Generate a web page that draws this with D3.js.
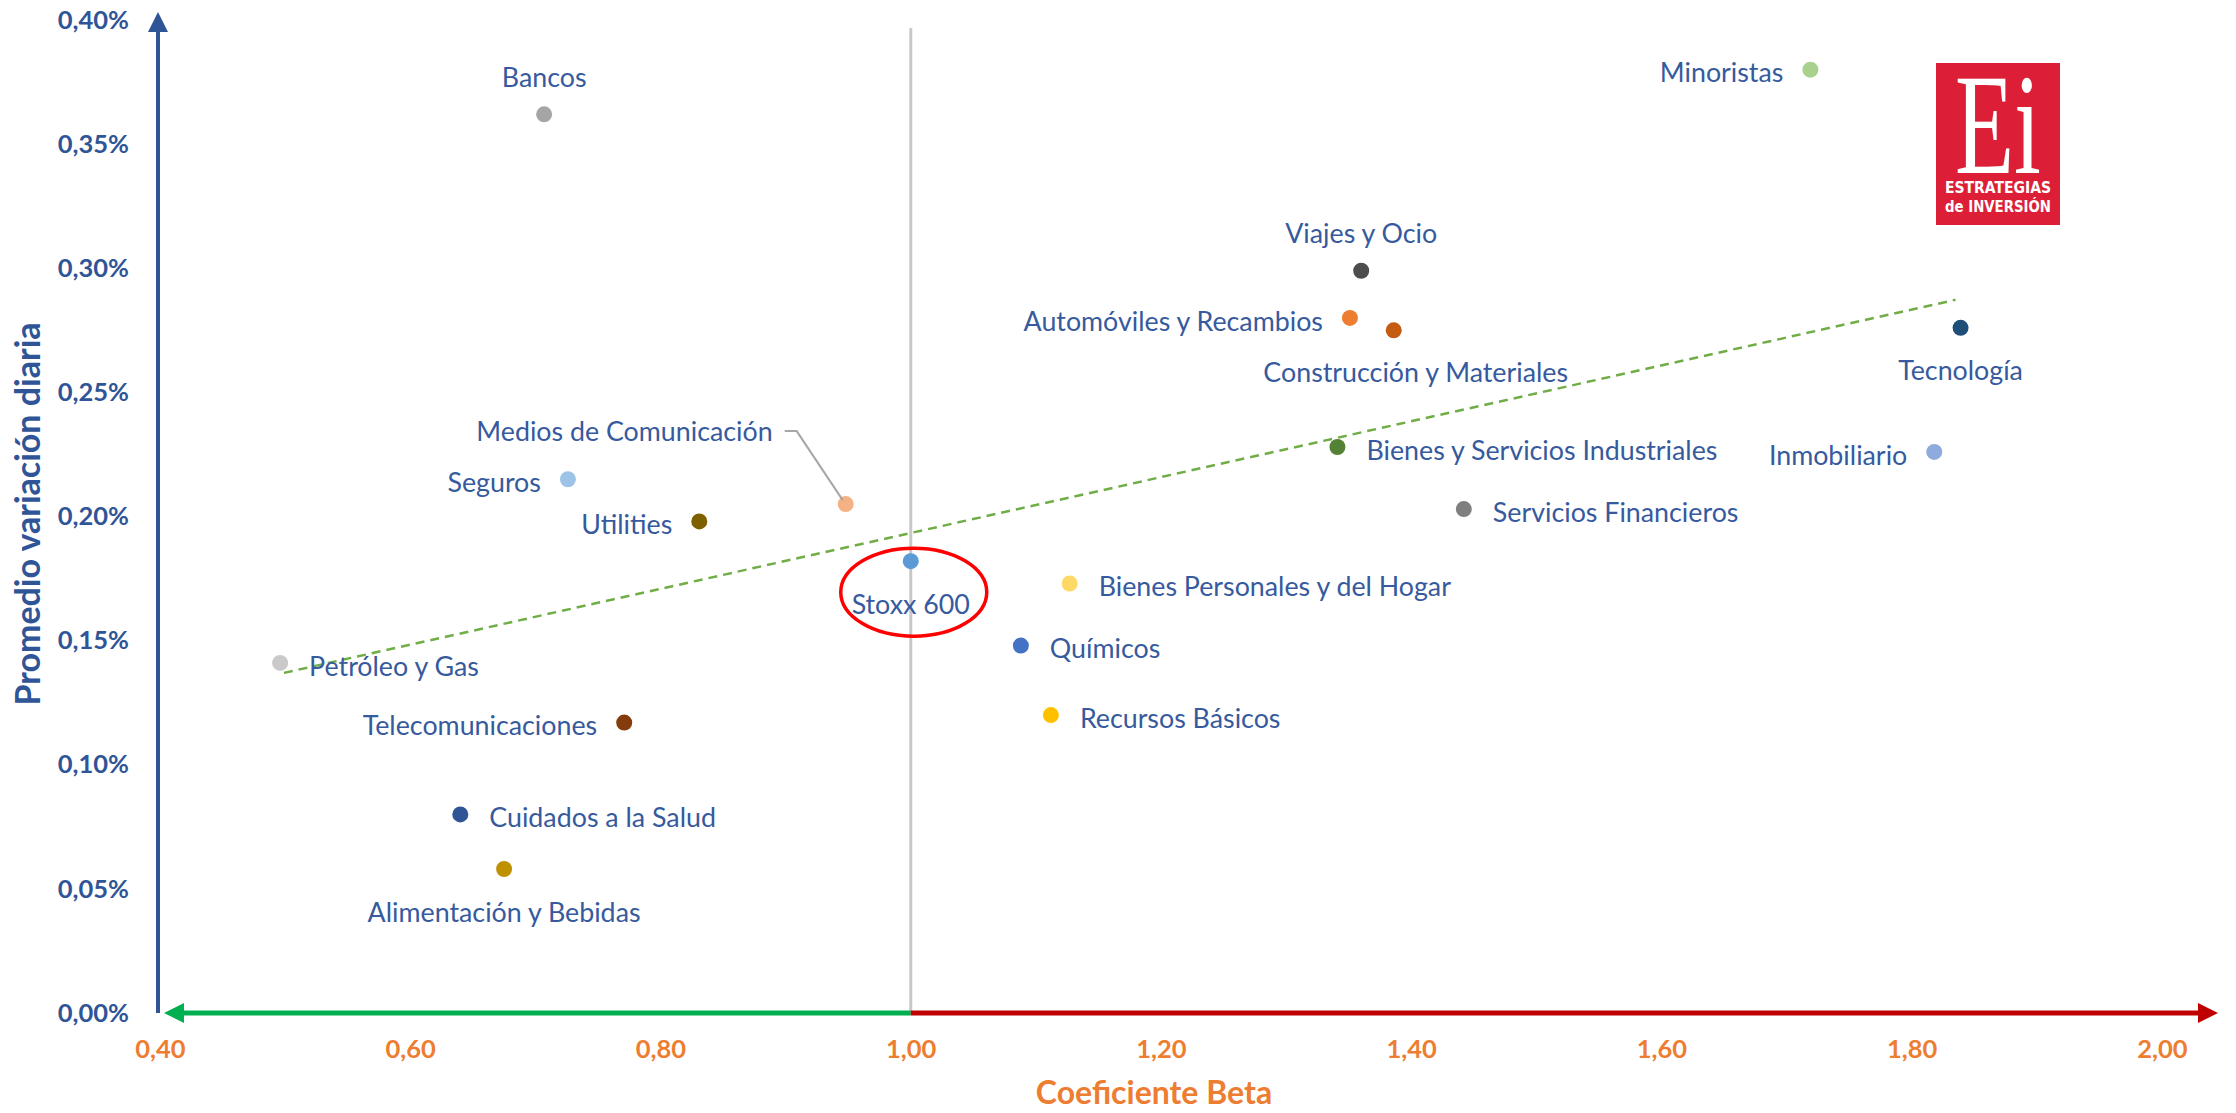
<!DOCTYPE html>
<html>
<head>
<meta charset="utf-8">
<script src="https://cdn.jsdelivr.net/npm/d3@7"></script>
<style>
  html, body { margin: 0; padding: 0; background: #ffffff; }
  svg { display: block; }
</style>
</head>
<body>
<svg id="chart" width="2236" height="1113"></svg>
<script>
// Sectores del Stoxx 600: coeficiente beta frente a la variación diaria media (%)
const sectors = [
  "Bancos", "Minoristas", "Viajes y Ocio", "Automóviles y Recambios",
  "Construcción y Materiales", "Tecnología", "Bienes y Servicios Industriales",
  "Inmobiliario", "Servicios Financieros", "Medios de Comunicación", "Seguros",
  "Utilities", "Stoxx 600", "Bienes Personales y del Hogar", "Químicos",
  "Petróleo y Gas", "Telecomunicaciones", "Recursos Básicos",
  "Cuidados a la Salud", "Alimentación y Bebidas"
];
const betaValues = [
  0.707, 1.719, 1.360, 1.351,
  1.386, 1.839, 1.341,
  1.818, 1.442, 0.948, 0.726,
  0.831, 1.000, 1.127, 1.088,
  0.496, 0.771, 1.112,
  0.640, 0.675
];
const dailyChange = [
  0.362, 0.380, 0.299, 0.280,
  0.275, 0.276, 0.228,
  0.226, 0.203, 0.205, 0.215,
  0.198, 0.182, 0.173, 0.148,
  0.141, 0.117, 0.120,
  0.080, 0.058
];
const dotColors = [
  "#a5a5a5", "#a9d18e", "#4d4d4d", "#ed7d31",
  "#c55a11", "#1f4e79", "#548235",
  "#8faadc", "#7f7f7f", "#f4b183", "#9dc3e6",
  "#7f6000", "#5b9bd5", "#ffd966", "#4472c4",
  "#c9c9c9", "#843c0c", "#ffc000",
  "#2f5597", "#bf9000"
];

// Línea de tendencia (extremos)
const trendBeta = [0.499, 1.835];
const trendChange = [0.137, 0.2873];

const xTicks = [0.40, 0.60, 0.80, 1.00, 1.20, 1.40, 1.60, 1.80, 2.00];
const yTicks = [0.00, 0.05, 0.10, 0.15, 0.20, 0.25, 0.30, 0.35, 0.40];

// Colocación de cada etiqueta respecto a su punto
const labelPlacement = {
  "Bancos": "top", "Minoristas": "left", "Viajes y Ocio": "top",
  "Automóviles y Recambios": "left", "Construcción y Materiales": "bottomShift",
  "Tecnología": "bottom", "Bienes y Servicios Industriales": "right",
  "Inmobiliario": "left", "Servicios Financieros": "right",
  "Medios de Comunicación": "leader", "Seguros": "left", "Utilities": "left",
  "Stoxx 600": "bottom", "Bienes Personales y del Hogar": "right",
  "Químicos": "right", "Petróleo y Gas": "right", "Telecomunicaciones": "left",
  "Recursos Básicos": "right", "Cuidados a la Salud": "right",
  "Alimentación y Bebidas": "bottom"
};

const points = sectors.map((name, i) => ({
  name, beta: betaValues[i], value: dailyChange[i], color: dotColors[i]
}));

const svg = d3.select("#chart");
const W = 2236, H = 1113;
svg.append("rect").attr("width", W).attr("height", H).attr("fill", "#ffffff");

const x = d3.scaleLinear().domain([0.4, 2.0]).range([160, 2162]);
const y = d3.scaleLinear().domain([0, 0.4]).range([1013, 20]);

const esLocale = d3.formatLocale({ decimal: ",", thousands: ".", grouping: [3], currency: ["", " €"] });
const fmt2 = esLocale.format(".2f");

const FONT = "Lato, 'Open Sans', sans-serif";
const BLUE = "#2f5597";
const ORANGE = "#ed7d31";
const LABEL = "#365a9d";

const defs = svg.append("defs");
function arrowMarker(id, color) {
  defs.append("marker")
    .attr("id", id)
    .attr("viewBox", "0 0 10 10")
    .attr("refX", 1).attr("refY", 5)
    .attr("markerUnits", "userSpaceOnUse")
    .attr("markerWidth", 20).attr("markerHeight", 20)
    .attr("orient", "auto")
    .append("path")
    .attr("d", "M0,0 L10,5 L0,10 Z")
    .attr("fill", color);
}
arrowMarker("arrowBlue", BLUE);
arrowMarker("arrowGreen", "#00b050");
arrowMarker("arrowRed", "#c00000");

// Referencia beta = 1
svg.append("line")
  .attr("x1", x(1)).attr("x2", x(1))
  .attr("y1", 28).attr("y2", y(0))
  .attr("stroke", "#c8c8c8").attr("stroke-width", 3);

// Línea de tendencia
svg.append("line")
  .attr("x1", x(trendBeta[0])).attr("y1", y(trendChange[0]))
  .attr("x2", x(trendBeta[1])).attr("y2", y(trendChange[1]))
  .attr("stroke", "#70ad47").attr("stroke-width", 2.5)
  .attr("stroke-dasharray", "9,6");

// Eje vertical con flecha
svg.append("line")
  .attr("x1", x(0.4) - 2).attr("x2", x(0.4) - 2)
  .attr("y1", y(0)).attr("y2", 30)
  .attr("stroke", BLUE).attr("stroke-width", 4)
  .attr("marker-end", "url(#arrowBlue)");

// Eje horizontal: verde hacia beta bajas, rojo hacia beta altas
svg.append("line")
  .attr("x1", x(1)).attr("x2", x(0.4) + 22)
  .attr("y1", y(0)).attr("y2", y(0))
  .attr("stroke", "#00b050").attr("stroke-width", 5)
  .attr("marker-end", "url(#arrowGreen)");
svg.append("line")
  .attr("x1", x(1)).attr("x2", 2200)
  .attr("y1", y(0)).attr("y2", y(0))
  .attr("stroke", "#c00000").attr("stroke-width", 5)
  .attr("marker-end", "url(#arrowRed)");

// Marcas de los ejes
const yAxis = svg.append("g")
  .attr("transform", `translate(${x(0.4)},0)`)
  .call(d3.axisLeft(y).tickValues(yTicks).tickSize(0).tickPadding(31)
    .tickFormat(d => fmt2(d) + "%"));
yAxis.select(".domain").remove();
yAxis.selectAll("text")
  .attr("font-family", FONT).attr("font-size", 25.5).attr("font-weight", 700)
  .attr("fill", BLUE);

const xAxis = svg.append("g")
  .attr("transform", `translate(0,${y(0)})`)
  .call(d3.axisBottom(x).tickValues(xTicks).tickSize(0).tickPadding(27)
    .tickFormat(d => fmt2(d)));
xAxis.select(".domain").remove();
xAxis.selectAll("text")
  .attr("font-family", FONT).attr("font-size", 25.5).attr("font-weight", 700)
  .attr("fill", ORANGE);

// Títulos de los ejes
svg.append("text")
  .attr("x", 1154).attr("y", 1104)
  .attr("text-anchor", "middle")
  .attr("font-family", FONT).attr("font-size", 32).attr("font-weight", 700)
  .attr("fill", ORANGE)
  .text("Coeficiente Beta");

svg.append("text")
  .attr("transform", "translate(40,514) rotate(-90)")
  .attr("text-anchor", "middle")
  .attr("font-family", FONT).attr("font-size", 34).attr("font-weight", 700)
  .attr("fill", BLUE)
  .text("Promedio variación diaria");

// Puntos
const g = svg.append("g");
g.selectAll("circle.dot")
  .data(points)
  .join("circle")
  .attr("class", "dot")
  .attr("cx", d => x(d.beta))
  .attr("cy", d => y(d.value))
  .attr("r", 8)
  .attr("fill", d => d.color);

// Etiquetas
const FS = 26.8;
const base = FS * 0.36;
points.forEach(d => {
  const px = x(d.beta), py = y(d.value);
  const place = labelPlacement[d.name];
  let tx = px, ty = py, anchor = "middle";
  if (place === "top") { ty = py - 37; }
  else if (place === "bottom") { ty = py + 43; }
  else if (place === "bottomShift") { tx = px + 22; ty = py + 42; }
  else if (place === "left") { tx = px - 27; ty = py + 3; anchor = "end"; }
  else if (place === "right") { tx = px + 29; ty = py + 3; anchor = "start"; }
  else if (place === "leader") {
    tx = px - 73; ty = py - 73; anchor = "end";
    g.append("polyline")
      .attr("points", [[px - 61, py - 73], [px - 49, py - 73], [px - 3, py - 4]].map(p => p.join(",")).join(" "))
      .attr("fill", "none").attr("stroke", "#a6a6a6").attr("stroke-width", 2);
  }
  g.append("text")
    .attr("x", tx).attr("y", ty + base)
    .attr("text-anchor", anchor)
    .attr("font-family", FONT).attr("font-size", FS)
    .attr("fill", LABEL)
    .text(d.name);

  if (d.name === "Stoxx 600") {
    g.append("ellipse")
      .attr("cx", px + 3).attr("cy", py + 31)
      .attr("rx", 73).attr("ry", 44)
      .attr("fill", "none").attr("stroke", "#ff0000").attr("stroke-width", 3.5);
  }
});

// Logotipo: un solo bloque de texto con tres líneas
const logo = svg.append("g").attr("transform", "translate(1936,63)");
logo.append("rect").attr("width", 124).attr("height", 162).attr("fill", "#dc1f36");
const logoText = logo.append("text").attr("fill", "#ffffff");
logoText.append("tspan")
  .attr("x", 19).attr("y", 110)
  .attr("font-family", "'Liberation Serif', 'DejaVu Serif', serif")
  .attr("font-size", 144)
  .attr("textLength", 86).attr("lengthAdjust", "spacingAndGlyphs")
  .text("Ei");
logoText.append("tspan")
  .attr("x", 9).attr("y", 130)
  .attr("font-family", "'DejaVu Sans Condensed', 'Liberation Sans Narrow', sans-serif")
  .attr("font-size", 15.5).attr("font-weight", 700)
  .attr("textLength", 106).attr("lengthAdjust", "spacingAndGlyphs")
  .text("ESTRATEGIAS");
logoText.append("tspan")
  .attr("x", 9).attr("y", 149)
  .attr("font-family", "'DejaVu Sans Condensed', 'Liberation Sans Narrow', sans-serif")
  .attr("font-size", 15.5).attr("font-weight", 700)
  .attr("textLength", 106).attr("lengthAdjust", "spacingAndGlyphs")
  .text("de INVERSIÓN");
</script>
</body>
</html>
